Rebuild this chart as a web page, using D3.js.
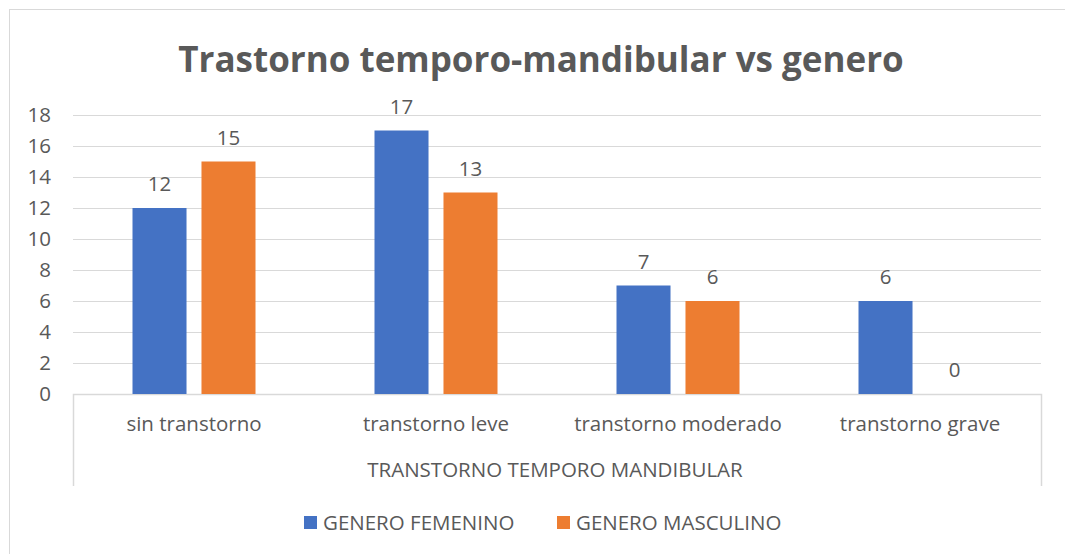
<!DOCTYPE html>
<html>
<head>
<meta charset="utf-8">
<script src="https://cdn.jsdelivr.net/npm/d3@7"></script>
<style>
  body { margin: 0; background: #fff; }
  text { font-family: "Open Sans", sans-serif; fill: #595959; }
</style>
</head>
<body>
<div id="chart"></div>
<script>
var categories = ['sin transtorno', 'transtorno leve', 'transtorno moderado', 'transtorno grave'];
var seriesNames = ['GENERO FEMENINO', 'GENERO MASCULINO'];
var femenino = [12, 17, 7, 6];
var masculino = [15, 13, 6, 0];
var yTicks = [0, 2, 4, 6, 8, 10, 12, 14, 16, 18];
var colors = ['#4472C4', '#ED7D31'];

var width = 1065, height = 554;
var plotLeft = 73, plotRight = 1041, plotTop = 115, plotBottom = 394;
var fs = '20.5px';

var svg = d3.select('#chart').append('svg')
  .attr('width', width)
  .attr('height', height);

// outer chart border
svg.append('rect')
  .attr('x', 9.5).attr('y', 9.5)
  .attr('width', width + 10).attr('height', height + 10)
  .attr('fill', 'none').attr('stroke', '#d9d9d9');

var y = d3.scaleLinear().domain([0, 18]).range([plotBottom, plotTop]);
var x0 = d3.scaleBand().domain(categories).range([plotLeft, plotRight]);
var x1 = d3.scaleBand().domain(seriesNames).range([0, 123]).paddingInner(0.217);

// gridlines
svg.append('g').selectAll('line')
  .data(yTicks.slice(1))
  .enter().append('line')
  .attr('x1', plotLeft).attr('x2', plotRight)
  .attr('y1', function(d) { return Math.round(y(d)) + 0.5; })
  .attr('y2', function(d) { return Math.round(y(d)) + 0.5; })
  .attr('stroke', '#d9d9d9').attr('stroke-width', 1);

// y axis labels
var yAxis = svg.append('g')
  .attr('transform', 'translate(' + plotLeft + ',0)')
  .call(d3.axisLeft(y).tickValues(yTicks).tickSize(0).tickPadding(22));
yAxis.select('.domain').remove();
yAxis.selectAll('text')
  .style('font-size', fs)
  .style('font-family', '"Open Sans", sans-serif')
  .attr('fill', '#595959');

// category axis box
svg.append('path')
  .attr('d', 'M' + (plotLeft + 0.5) + ',486 V' + (plotBottom + 0.5) + ' H' + (plotRight + 0.5) + ' V486')
  .attr('fill', 'none').attr('stroke', '#d9d9d9').attr('stroke-width', 1.5);

var series = [femenino, masculino];
var groups = svg.append('g').selectAll('g')
  .data(categories)
  .enter().append('g')
  .attr('transform', function(d) { return 'translate(' + (x0(d) + (x0.bandwidth() - 123) / 2) + ',0)'; });

groups.selectAll('rect')
  .data(function(d, i) { return seriesNames.map(function(s, j) { return {s: s, v: series[j][i], j: j}; }); })
  .enter().append('rect')
  .attr('x', function(d) { return x1(d.s); })
  .attr('width', x1.bandwidth())
  .attr('y', function(d) { return y(d.v); })
  .attr('height', function(d) { return plotBottom - y(d.v); })
  .attr('fill', function(d) { return colors[d.j]; });

groups.selectAll('text.val')
  .data(function(d, i) { return seriesNames.map(function(s, j) { return {s: s, v: series[j][i]}; }); })
  .enter().append('text')
  .attr('class', 'val')
  .attr('x', function(d) { return x1(d.s) + x1.bandwidth() / 2; })
  .attr('y', function(d) { return y(d.v) - 17; })
  .attr('text-anchor', 'middle')
  .style('font-size', fs)
  .text(function(d) { return d.v; });

// category labels
svg.append('g').selectAll('text')
  .data(categories)
  .enter().append('text')
  .attr('x', function(d) { return x0(d) + x0.bandwidth() / 2; })
  .attr('y', 431)
  .attr('text-anchor', 'middle')
  .style('font-size', fs)
  .text(function(d) { return d; });

svg.append('text')
  .attr('x', (plotLeft + plotRight) / 2 - 2)
  .attr('y', 477)
  .attr('text-anchor', 'middle')
  .style('font-size', fs)
  .text('TRANSTORNO TEMPORO MANDIBULAR');

// title
svg.append('text')
  .attr('x', 541)
  .attr('y', 72)
  .attr('text-anchor', 'middle')
  .style('font-size', '35px')
  .style('font-weight', 'bold')
  .text('Trastorno temporo-mandibular vs genero');

// legend
var legendX = [304, 557];
var legend = svg.append('g').selectAll('g')
  .data(seriesNames)
  .enter().append('g')
  .attr('transform', function(d, i) { return 'translate(' + legendX[i] + ',516)'; });
legend.append('rect')
  .attr('width', 13).attr('height', 13)
  .attr('fill', function(d, i) { return colors[i]; });
legend.append('text')
  .attr('x', 19).attr('y', 13.5)
  .style('font-size', fs)
  .text(function(d) { return d; });
</script>
</body>
</html>
